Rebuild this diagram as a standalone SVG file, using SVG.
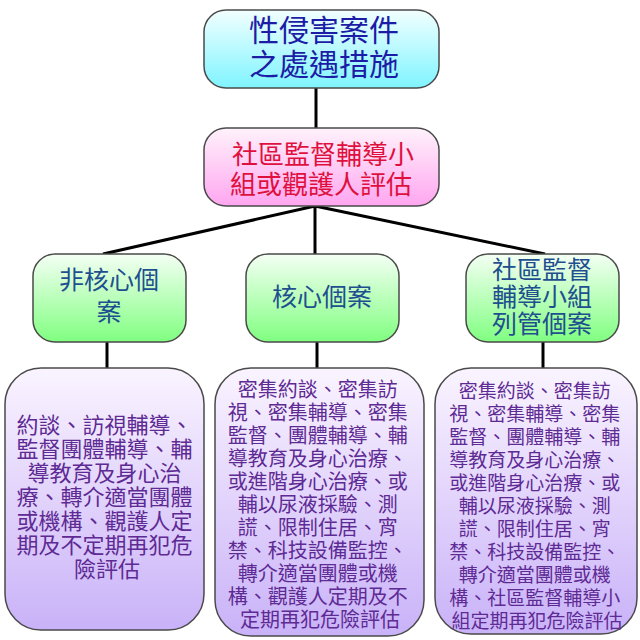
<svg xmlns="http://www.w3.org/2000/svg" width="640" height="640" viewBox="0 0 640 640">
<defs>
<linearGradient id="gCyan" x1="0" y1="0" x2="0" y2="1"><stop offset="0" stop-color="#f2ffff"/><stop offset="1" stop-color="#7ff4ff"/></linearGradient>
<linearGradient id="gPink" x1="0" y1="0" x2="0" y2="1"><stop offset="0" stop-color="#fff2fb"/><stop offset="1" stop-color="#ffa6f0"/></linearGradient>
<linearGradient id="gGreen" x1="0" y1="0" x2="0" y2="1"><stop offset="0" stop-color="#f4fff4"/><stop offset="1" stop-color="#80ff80"/></linearGradient>
<linearGradient id="gPurple" x1="0" y1="0" x2="0" y2="1"><stop offset="0" stop-color="#faf4ff"/><stop offset="1" stop-color="#c9b2f8"/></linearGradient>
</defs>
<style>
.box{stroke:#4a4a4a;stroke-width:1.5}
.t{font-family:"Noto Sans CJK TC","Noto Sans CJK SC",sans-serif;text-anchor:middle;dominant-baseline:central}
.top{fill:#1c1ca6;font-size:30px}
.sec{fill:#e0103e;font-size:26px}
.mid{fill:#1f4f8f;font-size:25px}
.bot{fill:#5e2a94}
.conn{stroke:#000;stroke-width:3;fill:none}
</style>
<g id="connectors">
<line class="conn" x1="316" y1="88" x2="316" y2="128"/>
<line class="conn" x1="315" y1="206" x2="103" y2="254"/>
<line class="conn" x1="315" y1="206" x2="315" y2="254"/>
<line class="conn" x1="315" y1="206" x2="545" y2="254"/>
<line class="conn" x1="107" y1="342" x2="107" y2="368"/>
<line class="conn" x1="317" y1="342" x2="317" y2="368"/>
<line class="conn" x1="543" y1="342" x2="543" y2="368"/>
</g>
<g id="n-top">
<rect class="box" x="204" y="10" width="235" height="78" rx="22" fill="url(#gCyan)"/>
<text class="t top" x="324" y="28">性侵害案件</text>
<text class="t top" x="324" y="62">之處遇措施</text>
</g>
<g id="n-assess">
<rect class="box" x="204" y="128" width="235" height="78" rx="22" fill="url(#gPink)"/>
<text class="t sec" x="323" y="152">社區監督輔導小</text>
<text class="t sec" x="321" y="182">組或觀護人評估</text>
</g>
<g id="n-noncore">
<rect class="box" x="33" y="254" width="153" height="88" rx="22" fill="url(#gGreen)"/>
<text class="t mid" x="109" y="278">非核心個</text>
<text class="t mid" x="109" y="310">案</text>
</g>
<g id="n-core">
<rect class="box" x="246" y="254" width="153" height="88" rx="22" fill="url(#gGreen)"/>
<text class="t mid" x="322" y="295">核心個案</text>
</g>
<g id="n-community">
<rect class="box" x="466" y="254" width="153" height="88" rx="22" fill="url(#gGreen)"/>
<text class="t mid" x="542" y="268">社區監督</text>
<text class="t mid" x="542" y="295">輔導小組</text>
<text class="t mid" x="542" y="322">列管個案</text>
</g>
<g id="n-noncore-measures">
<rect class="box" x="5" y="368" width="199" height="262" rx="36" fill="url(#gPurple)"/>
<text class="t bot" font-size="22" x="107">
<tspan x="107" y="423">約談、訪視輔導、</tspan>
<tspan x="107" y="447">監督團體輔導、輔</tspan>
<tspan x="107" y="471">導教育及身心治</tspan>
<tspan x="107" y="495">療、轉介適當團體</tspan>
<tspan x="107" y="519">或機構、觀護人定</tspan>
<tspan x="107" y="543">期及不定期再犯危</tspan>
<tspan x="107" y="567">險評估</tspan>
</text>
</g>
<g id="n-core-measures">
<rect class="box" x="215" y="368" width="209" height="268" rx="36" fill="url(#gPurple)"/>
<text class="t bot" font-size="20" x="320">
<tspan x="320" y="388">密集約談、密集訪</tspan>
<tspan x="320" y="411">視、密集輔導、密集</tspan>
<tspan x="320" y="434">監督、團體輔導、輔</tspan>
<tspan x="320" y="457">導教育及身心治療、</tspan>
<tspan x="320" y="480">或進階身心治療、或</tspan>
<tspan x="320" y="503">輔以尿液採驗、測</tspan>
<tspan x="320" y="526">謊、限制住居、宵</tspan>
<tspan x="320" y="549">禁、科技設備監控、</tspan>
<tspan x="320" y="572">轉介適當團體或機</tspan>
<tspan x="320" y="595">構、觀護人定期及不</tspan>
<tspan x="320" y="618">定期再犯危險評估</tspan>
</text>
</g>
<g id="n-community-measures">
<rect class="box" x="435" y="368" width="202" height="266" rx="36" fill="url(#gPurple)"/>
<text class="t bot" font-size="19" x="537">
<tspan x="537" y="389">密集約談、密集訪</tspan>
<tspan x="537" y="412">視、密集輔導、密集</tspan>
<tspan x="537" y="435">監督、團體輔導、輔</tspan>
<tspan x="537" y="458">導教育及身心治療、</tspan>
<tspan x="537" y="481">或進階身心治療、或</tspan>
<tspan x="537" y="504">輔以尿液採驗、測</tspan>
<tspan x="537" y="527">謊、限制住居、宵</tspan>
<tspan x="537" y="550">禁、科技設備監控、</tspan>
<tspan x="537" y="573">轉介適當團體或機</tspan>
<tspan x="537" y="596">構、社區監督輔導小</tspan>
<tspan x="537" y="619">組定期再犯危險評估</tspan>
</text>
</g>
</svg>
